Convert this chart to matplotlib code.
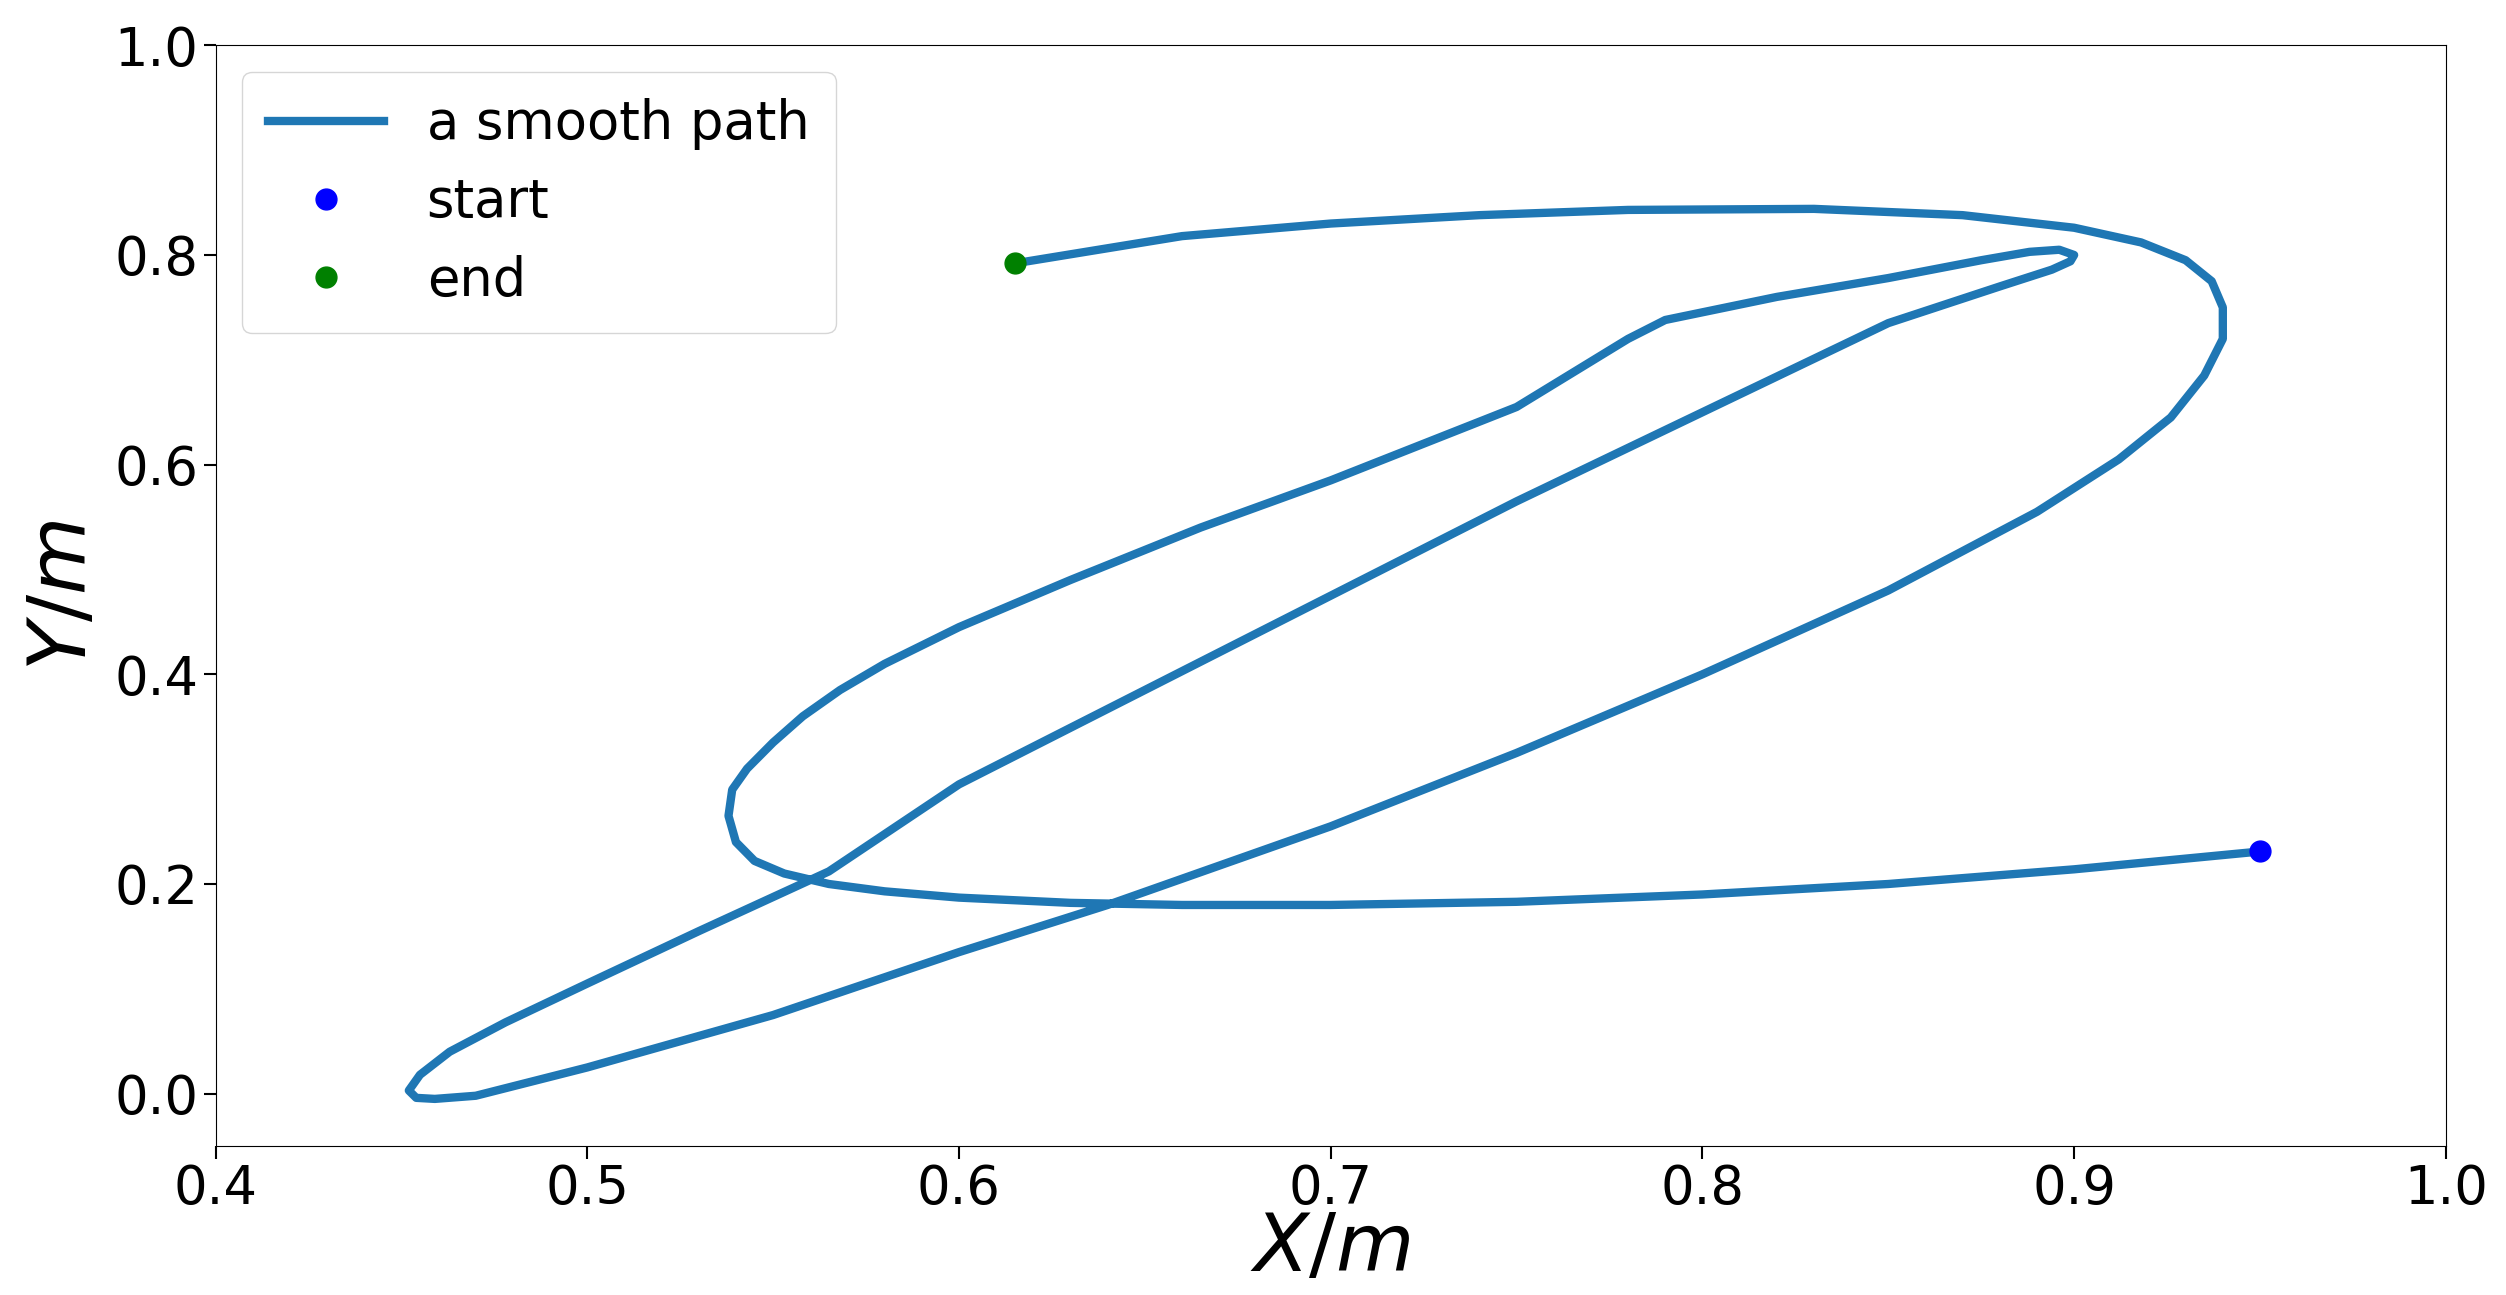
import matplotlib

matplotlib.use("Agg")
import matplotlib.pyplot as plt

# path waypoints, start -> end
path_x = [0.950, 0.900, 0.850, 0.800, 0.750, 0.700, 0.660, 0.630, 0.600, 0.580, 0.565,
          0.553, 0.545, 0.540, 0.538, 0.539, 0.543, 0.550, 0.558, 0.568, 0.580, 0.600,
          0.630, 0.665, 0.700, 0.750, 0.780, 0.790, 0.820, 0.850, 0.875, 0.888, 0.896,
          0.900, 0.899, 0.894, 0.880, 0.850, 0.800, 0.750, 0.700, 0.650, 0.600, 0.565,
          0.530, 0.500, 0.478, 0.463, 0.455, 0.452, 0.454, 0.459, 0.470, 0.500, 0.550,
          0.600, 0.640, 0.700, 0.750, 0.800, 0.850, 0.890, 0.912, 0.926, 0.935, 0.940,
          0.940, 0.937, 0.930, 0.918, 0.900, 0.870, 0.830, 0.780, 0.740, 0.700, 0.660,
          0.615]
path_y = [0.231, 0.214, 0.200, 0.190, 0.183, 0.180, 0.180, 0.182, 0.187, 0.193, 0.200,
          0.210, 0.222, 0.240, 0.265, 0.290, 0.310, 0.335, 0.360, 0.385, 0.410, 0.445,
          0.490, 0.540, 0.585, 0.655, 0.720, 0.738, 0.760, 0.778, 0.795, 0.803, 0.805,
          0.800, 0.794, 0.786, 0.770, 0.735, 0.650, 0.565, 0.475, 0.385, 0.295, 0.212,
          0.155, 0.105, 0.068, 0.040, 0.018, 0.003, -0.004, -0.005, -0.002, 0.025, 0.075,
          0.135, 0.180, 0.255, 0.325, 0.400, 0.480, 0.555, 0.605, 0.645, 0.685, 0.720,
          0.750, 0.775, 0.795, 0.812, 0.826, 0.838, 0.844, 0.843, 0.838, 0.830, 0.818,
          0.792]

fig = plt.figure(figsize=(25.06, 12.95), dpi=100)
ax = fig.add_axes([0.086, 0.115, 0.89, 0.85])
ax.plot(path_x, path_y, color="#1f77b4", lw=6, label="a smooth path",
        solid_joinstyle="round")
ax.plot(path_x[0], path_y[0], "o", color="blue", ms=15, label="start")
ax.plot(path_x[-1], path_y[-1], "o", color="green", ms=15, label="end")
ax.set_xlim(0.4, 1.0)
ax.set_ylim(-0.05, 1.0)
ax.tick_params(labelsize=38, length=9, width=1.5)
ax.set_xlabel("$X/m$", fontsize=58, labelpad=-4)
ax.set_ylabel("$Y/m$", fontsize=58, labelpad=8)
ax.legend(loc="upper left", fontsize=38, borderpad=0.5, handlelength=2.2)

fig.savefig("out.png", dpi=100)
